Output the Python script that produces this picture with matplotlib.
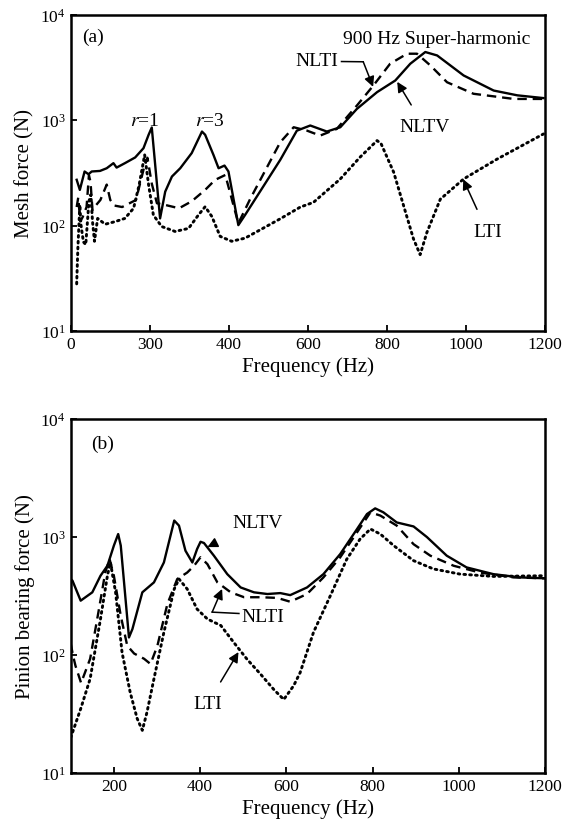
import matplotlib
matplotlib.use("Agg")
import matplotlib.pyplot as plt

plt.rcParams['font.family'] = ['Liberation Serif', 'DejaVu Serif']
plt.rcParams['mathtext.fontset'] = 'stix'

# ---- panel (a): mesh force ----
a_nltv_f = [15, 23, 35, 45, 53, 74, 91, 108, 116, 137, 163, 184, 197, 205, 226, 239, 256, 277,
            306, 332, 340, 361, 374, 389, 399, 424, 441, 530, 572, 606, 648, 682, 724, 775,
            821, 859, 897, 927, 994, 1070, 1130, 1196]
a_nltv = [272, 218, 326, 307, 326, 330, 350, 391, 355, 391, 443, 542, 727, 852, 117, 210, 292, 350,
          487, 780, 727, 469, 350, 371, 326, 101, 126, 420, 795, 890, 780, 857, 1280, 1845,
          2377, 3430, 4430, 4110, 2655, 1910, 1720, 1620]

a_nlti_f = [15, 19, 24, 30, 40, 46, 50, 55, 60, 75, 91, 100, 110, 130, 165, 185, 194, 205, 218,
            239, 274, 306, 340, 365, 391, 424, 454, 530, 564, 598, 631, 673, 724, 766, 808,
            851, 876, 910, 952, 1019, 1121, 1196]
a_nlti = [150, 185, 110, 120, 150, 300, 260, 140, 150, 175, 245, 175, 155, 150, 175, 350, 440, 250, 163,
          157, 146, 170, 218, 271, 302, 105, 179, 617, 857, 795, 714, 826, 1377, 2140, 3430,
          4270, 4270, 3300, 2290, 1780, 1590, 1590]

a_lti_f = [15, 18, 23, 26, 32, 38, 46, 51, 55, 60, 68, 87, 112, 137, 159, 173, 187, 197, 209,
           230, 264, 298, 323, 340, 357, 378, 407, 441, 530, 581, 614, 682, 732, 775, 785,
           817, 842, 867, 884, 901, 935, 994, 1079, 1196]
a_lti = [28, 61, 157, 101, 70, 66, 170, 197, 110, 71, 117, 103, 109, 117, 146, 243, 469, 243, 126,
         98, 88, 94, 126, 151, 122, 79, 71, 76, 116, 150, 166, 277, 446, 640, 600,
         321, 155, 75, 53, 86, 178, 277, 428, 740]

a_xticks = [0, 200, 400, 600, 800, 1000, 1200]
a_xticklabels = ['0', '300', '400', '600', '800', '1000', '1200']

# ---- panel (b): pinion bearing force ----
b_nltv_f = [100, 104, 123, 150, 169, 185, 200, 210, 216, 235, 243, 266, 293, 316, 340, 351, 366,
            382, 393, 401, 409, 432, 463, 494, 525, 556, 586, 609, 648, 686, 725, 764, 787,
            806, 825, 856, 895, 926, 972, 1018, 1080, 1142, 1200]
b_nltv = [440, 427, 289, 340, 470, 571, 846, 1060, 846, 141, 166, 340, 413, 609, 1380, 1250, 766,
          609, 791, 912, 890, 695, 485, 374, 340, 329, 335, 322, 374, 485, 718, 1170, 1566,
          1750, 1620, 1330, 1230, 1000, 695, 553, 485, 455, 447]

b_nlti_f = [100, 105, 111, 124, 145, 164, 180, 190, 200, 216, 231, 247, 270, 285, 301, 324, 347,
            370, 386, 401, 417, 440, 471, 502, 540, 579, 609, 648, 686, 725, 764, 795, 818,
            856, 895, 934, 988, 1049, 1127, 1200]
b_nlti = [125, 100, 81, 58, 93, 229, 500, 652, 470, 215, 120, 103, 93, 84, 120, 270, 441,
          500, 571, 674, 589, 413, 340, 309, 309, 305, 283, 329, 455, 674, 1097, 1620, 1520,
          1250, 870, 695, 571, 500, 455, 447]

b_lti_f = [100, 104, 123, 145, 169, 185, 192, 204, 219, 238, 254, 266, 277, 293, 316, 340, 351,
           370, 393, 417, 448, 478, 509, 540, 571, 594, 617, 632, 663, 702, 740, 771, 795,
           818, 849, 895, 941, 1003, 1080, 1200]
b_lti = [20, 22, 35, 63, 202, 470, 609, 340, 105, 48, 29, 23, 33, 63, 156, 363, 441,
         363, 245, 202, 178, 128, 92, 69, 51, 42, 55, 71, 156, 318, 648, 962, 1170,
         1060, 846, 631, 537, 485, 464, 470]

b_xticks = [200, 400, 600, 800, 1000, 1200]

fig = plt.figure(figsize=(5.66, 8.29), dpi=100)
ax1 = fig.add_axes([0.125, 0.5995, 0.838, 0.3815])
ax2 = fig.add_axes([0.125, 0.0663, 0.838, 0.427])

solid = dict(color='black', lw=1.7, ls='-')
dashed = dict(color='black', lw=1.7, ls=(0, (4, 2.5)))
dotted = dict(color='black', lw=2.1, ls=(0, (0.6, 1.4)), dash_capstyle='round')

ax1.plot(a_nltv_f, a_nltv, **solid)
ax1.plot(a_nlti_f, a_nlti, **dashed)
ax1.plot(a_lti_f, a_lti, **dotted)

ax2.plot(b_nltv_f, b_nltv, **solid)
ax2.plot(b_nlti_f, b_nlti, **dashed)
ax2.plot(b_lti_f, b_lti, **dotted)

lab = 15
for ax in (ax1, ax2):
    ax.set_yscale('log')
    ax.set_ylim(10, 1e4)
    ax.set_xlabel('Frequency (Hz)', fontsize=lab, labelpad=3)
    ax.tick_params(direction='in', length=4, width=1.3, labelsize=12.5, top=False, right=False)
    ax.tick_params(which='minor', left=False, right=False)
    ax.set_yticks([10, 100, 1000, 10000])
    for s in ax.spines.values():
        s.set_linewidth(1.8)

ax1.set_xlim(0, 1200)
ax1.set_xticks(a_xticks)
ax1.set_xticklabels(a_xticklabels)
ax1.set_ylabel('Mesh force (N)', fontsize=lab, labelpad=4)

ax2.set_xlim(100, 1200)
ax2.set_xticks(b_xticks)
ax2.set_ylabel('Pinion bearing force (N)', fontsize=lab, labelpad=4)

arrow = dict(arrowstyle='-|>', color='black', lw=1.1, mutation_scale=15, shrinkA=0, shrinkB=0)
fs = 14

# annotations (a)
ax1.text(56, 6180, '(a)', fontsize=fs, ha='center', va='center')
ax1.text(188, 1000, '$r$=1', fontsize=fs, ha='center', va='center')
ax1.text(353, 1000, '$r$=3', fontsize=fs, ha='center', va='center')
ax1.text(927, 5900, '900 Hz Super-harmonic', fontsize=fs, ha='center', va='center')
ax1.text(622, 3660, 'NLTI', fontsize=fs, ha='center', va='center')
ax1.plot([685, 740], [3600, 3580], color='black', lw=1.1)
ax1.annotate('', xy=(765, 2070), xytext=(740, 3580), arrowprops=arrow)
ax1.annotate('NLTV', xy=(826, 2310), xytext=(895, 863), fontsize=fs, ha='center', va='center',
             arrowprops=dict(arrow, shrinkA=9))
ax1.annotate('LTI', xy=(993, 275), xytext=(1054, 87), fontsize=fs, ha='center', va='center',
             arrowprops=dict(arrow, shrinkA=9))

# annotations (b)
ax2.text(174, 6200, '(b)', fontsize=fs, ha='center', va='center')
ax2.annotate('NLTV', xy=(417, 822), xytext=(533, 1340), fontsize=fs, ha='center', va='center',
             arrowprops=dict(arrow, shrinkA=16))
ax2.text(545, 214, 'NLTI', fontsize=fs, ha='center', va='center')
ax2.plot([490, 428], [225, 231], color='black', lw=1.1)
ax2.annotate('', xy=(451, 363), xytext=(428, 231), arrowprops=arrow)
ax2.annotate('LTI', xy=(489, 106), xytext=(417, 38.5), fontsize=fs, ha='center', va='center',
             arrowprops=dict(arrow, shrinkA=9))

fig.savefig('out.png', dpi=100)
